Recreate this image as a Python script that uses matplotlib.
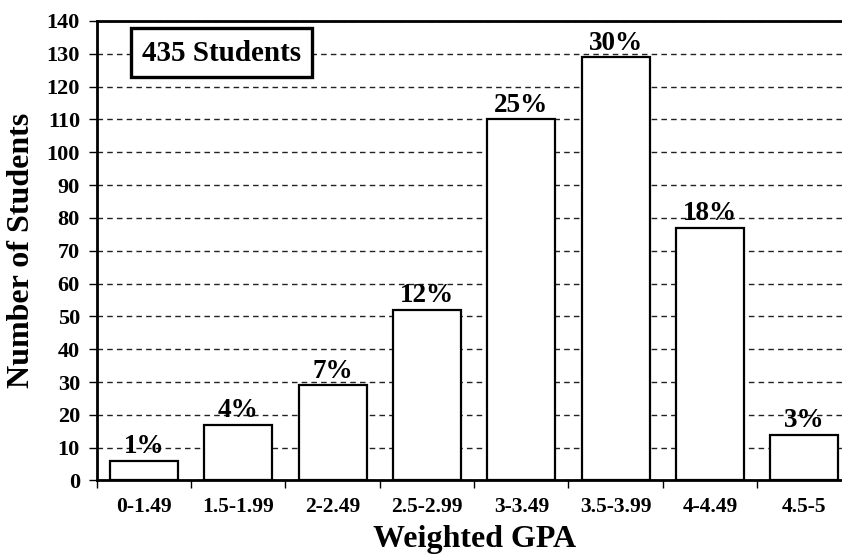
import numpy as np
import matplotlib
matplotlib.use("Agg")
import matplotlib.pyplot as plt
from matplotlib.patches import Rectangle

plt.rcParams['font.family'] = ['Liberation Serif', 'DejaVu Serif']
plt.rcParams['font.weight'] = 'bold'

# data
categories = ['0-1.49', '1.5-1.99', '2-2.49', '2.5-2.99',
              '3-3.49', '3.5-3.99', '4-4.49', '4.5-5']
counts = [6, 17, 29, 52, 110, 129, 77, 14]
pct_labels = ['1%', '4%', '7%', '12%', '25%', '30%', '18%', '3%']
total_label = '435 Students'
y_ticks = list(range(0, 141, 10))

fig = plt.figure(figsize=(8.42, 5.58), dpi=100)
# axes extends past the right edge, as in the original (right spine cropped)
ax = fig.add_axes([0.1148, 0.1389, 0.8966, 0.8235])

x = np.arange(len(categories))
ax.bar(x, counts, width=0.72, color='white', edgecolor='black',
       linewidth=1.6, zorder=3)

for xi, c, lab in zip(x, counts, pct_labels):
    ax.annotate(lab, (xi, c), xytext=(0, 1), textcoords='offset points',
                ha='center', va='bottom', fontsize=19.5, fontweight='bold',
                zorder=4)

ax.set_xlim(-0.5, len(categories) - 0.5)
ax.set_ylim(0, 140)
ax.set_yticks(y_ticks)
ax.set_yticklabels([str(v) for v in y_ticks], fontsize=16, fontweight='bold')

ax.set_xticks(x)
ax.set_xticklabels(categories, fontsize=15.5, fontweight='bold')
ax.set_xticks(np.arange(len(categories) + 1) - 0.5, minor=True)
ax.tick_params(axis='x', which='major', length=0, pad=12)
ax.tick_params(axis='x', which='minor', length=6, width=1, direction='out')
ax.tick_params(axis='y', length=6, width=1, direction='out', pad=6)

ax.yaxis.grid(True, linestyle=(0, (4, 3)), color='#222222', linewidth=1)
ax.set_axisbelow(True)

for side in ['left', 'bottom', 'top']:
    ax.spines[side].set_linewidth(2)
ax.spines['right'].set_visible(False)

ax.set_xlabel('Weighted GPA', fontsize=23, fontweight='bold', labelpad=6)
ax.set_ylabel('Number of Students', fontsize=23, fontweight='bold', labelpad=8)

# boxed annotation in the upper left
ax.add_patch(Rectangle((0.046, 0.878), 0.239, 0.107, transform=ax.transAxes,
                       facecolor='white', edgecolor='black', linewidth=2.4,
                       zorder=5))
ax.text(0.1656, 0.929, total_label, transform=ax.transAxes, ha='center',
        va='center', fontsize=21, fontweight='bold', zorder=6)

fig.savefig('out.png', dpi=100)
